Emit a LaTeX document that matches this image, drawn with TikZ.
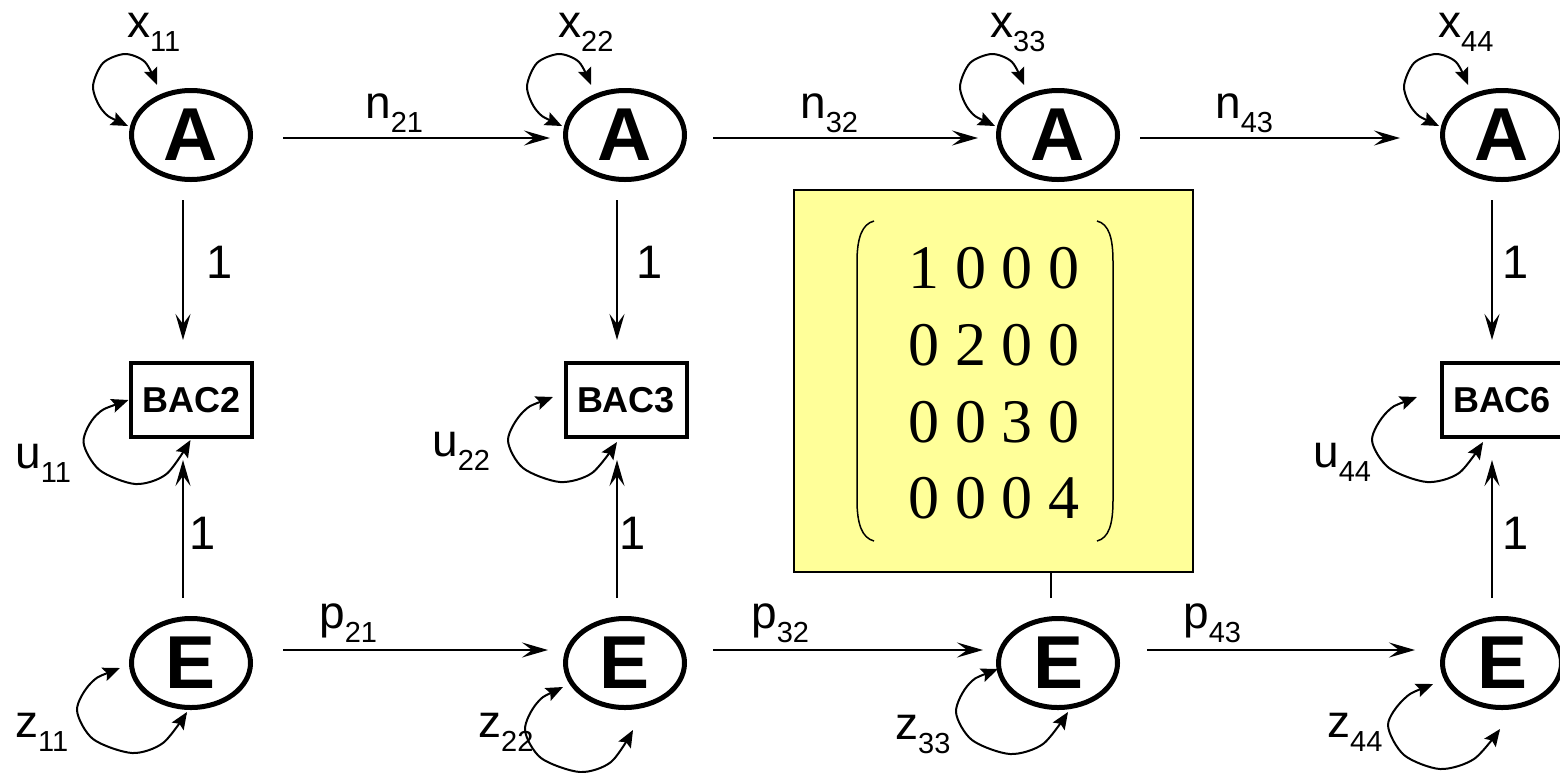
\documentclass[tikz,border=0pt]{standalone}
\usepackage{fontspec}
\setmainfont{Liberation Sans}
\newfontfamily\matfont{Liberation Serif}
\usetikzlibrary{arrows.meta,shapes.geometric}
\definecolor{matyellow}{RGB}{255,255,153}
\newcommand\lsub[2]{#1\raisebox{-14pt}{\fontsize{29}{29}\selectfont #2}}
\tikzset{
 stnode/.style={ellipse, draw, line width=5pt, minimum width=119pt, minimum height=89pt, inner sep=0pt, outer sep=0pt, font=\fontsize{75}{75}\selectfont\bfseries},
 bac/.style={rectangle, draw, line width=4pt, minimum width=121pt, minimum height=74pt, inner sep=0pt, outer sep=0pt, font=\fontsize{36}{36}\selectfont\bfseries},
 conn/.style={line width=2.2pt, -{Stealth[length=26pt,width=15pt,inset=10pt]}},
 selfarc/.style={line width=2pt, {Stealth[length=17pt,width=14pt,inset=3pt]}-{Stealth[length=17pt,width=14pt,inset=3pt]}},
 lbl/.style={anchor=base west, inner sep=0pt, font=\fontsize{46}{46}\selectfont},
 one/.style={inner sep=0pt, font=\fontsize{47}{47}\selectfont},
 matrow/.style={anchor=base, inner sep=0pt, font=\matfont\fontsize{62}{62}\selectfont},
 matbox/.style={rectangle, draw, fill=matyellow, line width=2pt, minimum width=399pt, minimum height=382pt, inner sep=0pt, outer sep=0pt},
}
\begin{document}
\begin{tikzpicture}[x=1pt,y=-1pt]
\useasboundingbox (0,0) rectangle (1560,772);
\clip (0,0) rectangle (1560,772);

% matrix box
\node[matbox] (M) at (993.5,381) {};
\node[matrow] (r1) at (994,288) {1 0 0 0};
\node[matrow] (r2) at (994,365) {0 2 0 0};
\node[matrow] (r3) at (994,442) {0 0 3 0};
\node[matrow] (r4) at (994,518) {0 0 0 4};
\draw[line width=1.5pt] (874,221) .. controls (862,224) and (857,238) .. (857,262) -- (857,500) .. controls (857,524) and (862,538) .. (874,541);
\draw[line width=1.5pt] (1097,221) .. controls (1109,224) and (1113,238) .. (1113,262) -- (1113,500) .. controls (1113,524) and (1109,538) .. (1097,541);

% nodes
\node[stnode] (A1) at (191,135) {A};
\node[stnode] (A2) at (625,135) {A};
\node[stnode] (A3) at (1058,135) {A};
\node[stnode] (A4) at (1502,135) {A};
\node[stnode] (E1) at (191,663) {E};
\node[stnode] (E2) at (625,663) {E};
\node[stnode] (E3) at (1058,663) {E};
\node[stnode] (E4) at (1502,663) {E};
\node[bac] (B1) at (191.5,400) {BAC2};
\node[bac] (B2) at (626,400) {BAC3};
\node[bac] (B4) at (1502,400) {BAC6};

% horizontal connectors
\draw[conn, shorten <=32.5pt, shorten >=15.5pt] ([yshift=-3pt]A1.east) -- ([yshift=-3pt]A2.west);
\draw[conn, shorten <=28.5pt, shorten >=20.5pt] ([yshift=-3pt]A2.east) -- ([yshift=-3pt]A3.west);
\draw[conn, shorten <=22.5pt, shorten >=42.5pt] ([yshift=-3pt]A3.east) -- ([yshift=-3pt]A4.west);
\draw[conn, shorten <=32.5pt, shorten >=17.5pt] ([yshift=13pt]E1.east) -- ([yshift=13pt]E2.west);
\draw[conn, shorten <=28.5pt, shorten >=15.5pt] ([yshift=13pt]E2.east) -- ([yshift=13pt]E3.west);
\draw[conn, shorten <=29.5pt, shorten >=27.5pt] ([yshift=13pt]E3.east) -- ([yshift=13pt]E4.west);

% vertical connectors
\draw[conn, shorten <=20.5pt, shorten >=23pt] ([xshift=-8pt]A1.south) -- ([xshift=-8.5pt]B1.north);
\draw[conn, shorten <=20.5pt, shorten >=23pt] ([xshift=-8pt]A2.south) -- ([xshift=-9pt]B2.north);
\draw[conn, shorten <=20.5pt, shorten >=23pt] ([xshift=-10pt]A4.south) -- ([xshift=-10pt]B4.north);
\draw[conn, shorten <=20.5pt, shorten >=23pt] ([xshift=-8pt]E1.north) -- ([xshift=-8.5pt]B1.south);
\draw[conn, shorten <=20.5pt, shorten >=23pt] ([xshift=-8pt]E2.north) -- ([xshift=-9pt]B2.south);
\draw[conn, shorten <=20.5pt, shorten >=23pt] ([xshift=-10pt]E4.north) -- ([xshift=-10pt]B4.south);
\draw[line width=2.2pt, shorten <=20.5pt] ([xshift=-7pt]E3.north) -- ([xshift=-7pt]E3.north |- M.south);

% self loops on A
\foreach \n in {A1,A2,A3,A4}{
  \begin{scope}[shift={(\n.center)}]
    \draw[selfarc] plot[smooth] coordinates {(-63,-9) (-88,-24) (-98,-48) (-88,-72) (-66,-81) (-46,-73) (-34,-50)};
  \end{scope}
}
% self loops on BAC
\begin{scope}[shift={(B1.center)}]
  \draw[selfarc] plot[smooth] coordinates {(-63,0) (-95,15) (-108,42) (-92,70) (-56,84) (-25,74) (-1,40)};
\end{scope}
\begin{scope}[shift={(B2.center)}]
  \draw[selfarc] plot[smooth] coordinates {(-73,-3) (-103,12) (-118,40) (-103,68) (-66,82) (-34,73) (-9,42)};
\end{scope}
\begin{scope}[shift={(B4.center)}]
  \draw[selfarc] plot[smooth] coordinates {(-85,-3) (-115,12) (-130,40) (-113,68) (-75,82) (-43,73) (-19,42)};
\end{scope}
% self loops on E
\begin{scope}[shift={(E1.center)}]
  \draw[selfarc] plot[smooth] coordinates {(-71,5) (-100,20) (-114,47) (-98,76) (-59,90) (-28,80) (-4,49)};
\end{scope}
\begin{scope}[shift={(E2.center)}]
  \draw[selfarc] plot[smooth] coordinates {(-62,24) (-88,40) (-100,67) (-84,95) (-45,109) (-14,99) (8,67)};
\end{scope}
\begin{scope}[shift={(E3.center)}]
  \draw[selfarc] plot[smooth] coordinates {(-60,6) (-89,21) (-102,49) (-86,77) (-48,91) (-15,81) (10,49)};
\end{scope}
\begin{scope}[shift={(E4.center)}]
  \draw[selfarc] plot[smooth] coordinates {(-69,21) (-98,36) (-114,62) (-98,92) (-62,106) (-28,96) (-2,66)};
\end{scope}

% labels
\node[lbl] (x11) at (127,37) {\lsub{x}{11}};
\node[lbl] (x22) at (558,37) {\lsub{x}{22}};
\node[lbl] (x33) at (990,37) {\lsub{x}{33}};
\node[lbl] (x44) at (1438,37) {\lsub{x}{44}};
\node[lbl] (n21) at (365,118) {\lsub{n}{21}};
\node[lbl] (n32) at (800,118) {\lsub{n}{32}};
\node[lbl] (n43) at (1215,118) {\lsub{n}{43}};
\node[lbl] (p21) at (319,628) {\lsub{p}{21}};
\node[lbl] (p32) at (751,628) {\lsub{p}{32}};
\node[lbl] (p43) at (1183,628) {\lsub{p}{43}};
\node[lbl] (u11) at (15,468) {\lsub{u}{11}};
\node[lbl] (u22) at (432,456) {\lsub{u}{22}};
\node[lbl] (u44) at (1313,467) {\lsub{u}{44}};
\node[lbl] (z11) at (15,737) {\lsub{z}{11}};
\node[lbl] (z22) at (478,737) {\lsub{z}{22}};
\node[lbl] (z33) at (895,739) {\lsub{z}{33}};
\node[lbl] (z44) at (1327,737) {\lsub{z}{44}};
\node[one] (o1) at (220,262) {1};
\node[one] (o2) at (650,262) {1};
\node[one] (o4) at (1516,262) {1};
\node[one] (o5) at (203,533) {1};
\node[one] (o6) at (633,533) {1};
\node[one] (o8) at (1516,533) {1};
\end{tikzpicture}
\end{document}
